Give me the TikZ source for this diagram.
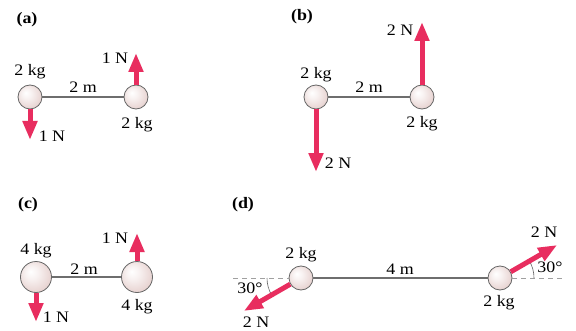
\documentclass[tikz,border=0pt]{standalone}
\usepackage{fontspec}
\setmainfont{Liberation Serif}[FakeStretch=1.12]
\usetikzlibrary{arrows.meta}
\definecolor{forcec}{RGB}{232,45,95}
\definecolor{ballc}{RGB}{232,212,210}
\definecolor{rodc}{RGB}{110,110,110}
\definecolor{dashc}{RGB}{160,160,160}
\pgfdeclareradialshading{ballshade}{\pgfpoint{-9bp}{9bp}}{color(0bp)=(white); color(10bp)=(white!70!ballc); color(28bp)=(ballc); color(50bp)=(ballc!85!gray)}
\tikzset{
  ball/.style={circle, inner sep=0pt, shading=ballshade, draw=black!60, line width=0.8pt, minimum size=#1},
  ball/.default=24pt,
  rod/.style={draw=rodc, line width=1.2pt},
  force/.style={draw=forcec, line width=5pt, -{Triangle[width=14pt,length=19pt]}},
  lbl/.style={inner sep=0pt, font=\fontsize{16}{19}\selectfont},
  plabel/.style={inner sep=0pt, font=\fontsize{16}{19}\selectfont\bfseries},
  refline/.style={draw=dashc, line width=0.8pt, dash pattern=on 5pt off 4pt},
  anglearc/.style={draw=black!60, line width=0.6pt}
}
\begin{document}
\begin{tikzpicture}[x=1pt,y=1pt]
\useasboundingbox[fill=white] (0,0) rectangle (576,330);
% ---------- (a)
\node[plabel] (la) at (27,310) {(a)};
\node[ball] (a1) at (30,233) {};
\node[ball] (a2) at (136,233) {};
\draw[rod] (a1) -- (a2);
\coordinate (a2f) at (136,277);
\coordinate (a1f) at (30,190);
\draw[force] (a2.north) -- (a2f);
\draw[force] (a1.south) -- (a1f);
\node[lbl] (ta1) at (30,258) {2 kg};
\node[lbl] (ta2) at (83,243) {2 m};
\node[lbl] (ta3) at (115,272) {1 N};
\node[lbl] (ta4) at (52,194) {1 N};
\node[lbl] (ta5) at (137,205) {2 kg};
% ---------- (b)
\node[plabel] (lb) at (302,313) {(b)};
\node[ball] (b1) at (316,233) {};
\node[ball] (b2) at (422,233) {};
\draw[rod] (b1) -- (b2);
\coordinate (b2f) at (422,308);
\coordinate (b1f) at (316,158);
\draw[force] (b2.north) -- (b2f);
\draw[force] (b1.south) -- (b1f);
\node[lbl] (tb1) at (316,255) {2 kg};
\node[lbl] (tb2) at (369,243) {2 m};
\node[lbl] (tb3) at (400,300) {2 N};
\node[lbl] (tb4) at (338,167) {2 N};
\node[lbl] (tb5) at (422,206) {2 kg};
% ---------- (c)
\node[plabel] (lc) at (28,125) {(c)};
\node[ball=31pt] (c1) at (36,53) {};
\node[ball=31pt] (c2) at (137,53) {};
\draw[rod] (c1) -- (c2);
\coordinate (c2f) at (137,97);
\coordinate (c1f) at (36,8);
\draw[force] (c2.north) -- (c2f);
\draw[force] (c1.south) -- (c1f);
\node[lbl] (tc1) at (36,79) {4 kg};
\node[lbl] (tc2) at (84,61) {2 m};
\node[lbl] (tc3) at (115,92) {1 N};
\node[lbl] (tc4) at (56,13) {1 N};
\node[lbl] (tc5) at (137,23) {4 kg};
% ---------- (d)
\node[plabel] (ld) at (243,125) {(d)};
\node[ball] (d1) at (301,52) {};
\node[ball] (d2) at (500,52) {};
\coordinate (dl) at (233,52);
\coordinate (dr) at (565,52);
\draw[refline] (dl) -- (d1.west);
\draw[refline] (d2.east) -- (dr);
\draw[rod] (d1) -- (d2);
\draw[anglearc] (534,52) arc[start angle=0, end angle=30, radius=34];
\draw[anglearc] (267,52) arc[start angle=180, end angle=210, radius=34];
\coordinate (d2f) at (557.2,85);
\coordinate (d1f) at (243.8,19);
\draw[force] (d2.30) -- (d2f);
\draw[force] (d1.210) -- (d1f);
\node[lbl] (td1) at (301,75) {2 kg};
\node[lbl] (td2) at (400,61) {4 m};
\node[lbl] (td3) at (499,27) {2 kg};
\node[lbl] (td4) at (544,98) {2 N};
\node[lbl] (td5) at (550,63) {30°};
\node[lbl] (td6) at (250,42) {30°};
\node[lbl] (td7) at (256,8) {2 N};
\end{tikzpicture}
\end{document}
